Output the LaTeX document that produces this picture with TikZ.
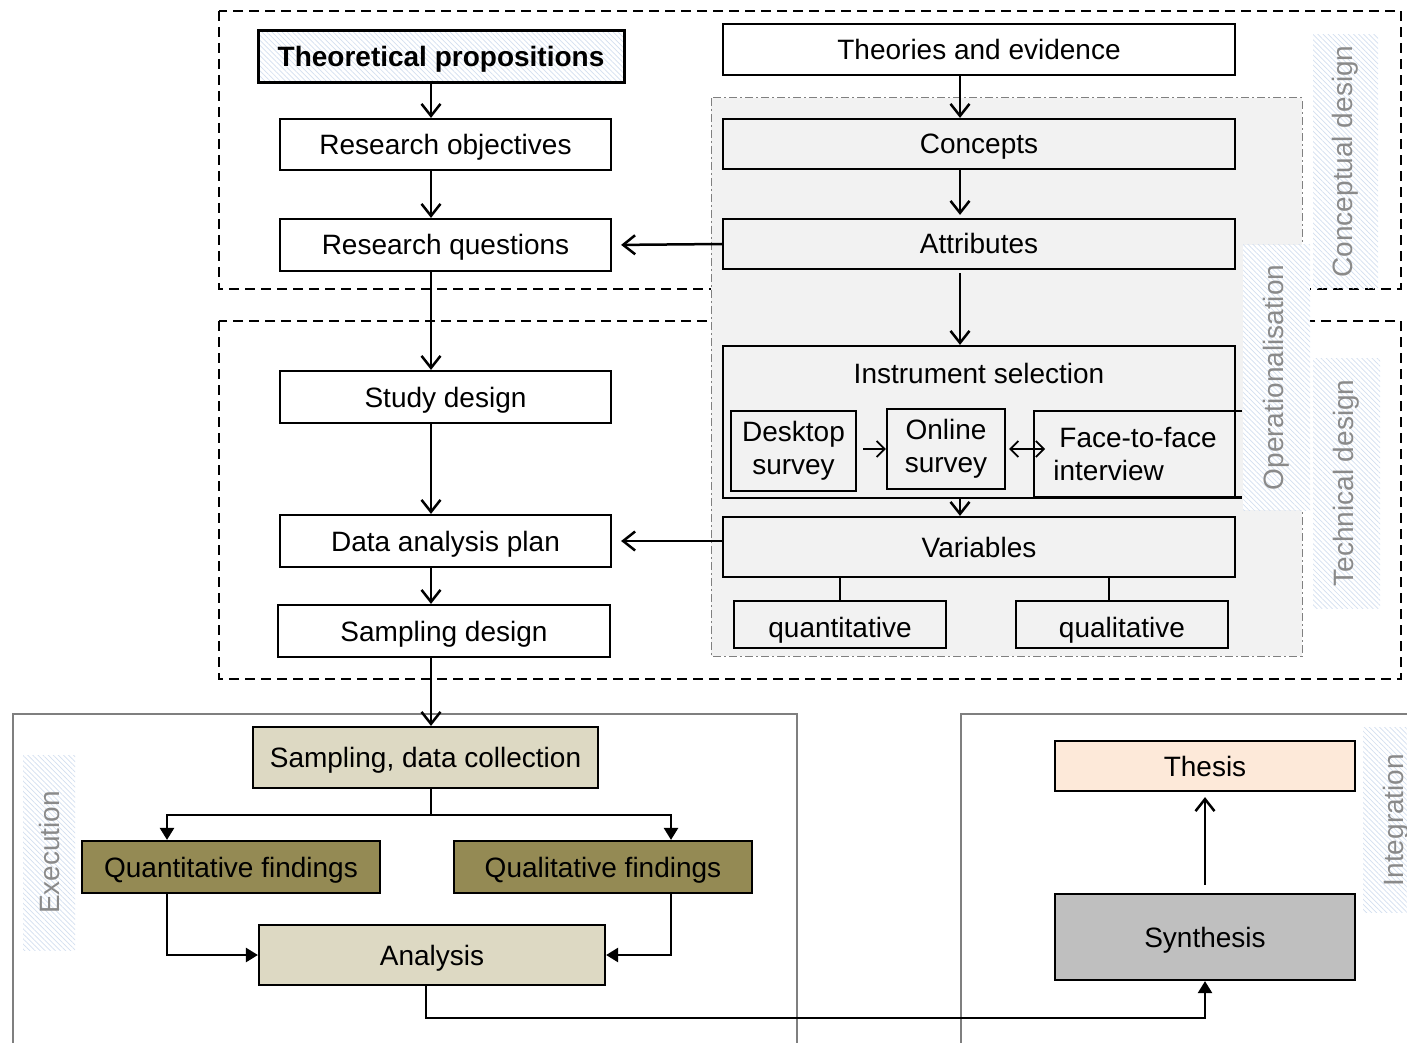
\documentclass[tikz,border=0pt]{standalone}
\usepackage{fontspec}
\setmainfont{Liberation Sans}
\usetikzlibrary{arrows.meta,patterns.meta}
\definecolor{tanfill}{HTML}{DDD9C3}
\definecolor{olivefill}{HTML}{948A54}
\definecolor{peachfill}{HTML}{FDE9D9}
\definecolor{synthfill}{HTML}{BFBFBF}
\definecolor{opfill}{HTML}{F2F2F2}
\definecolor{hatchblue}{HTML}{D3DFF0}
\definecolor{labelgrey}{HTML}{8A8A8A}
\definecolor{framegrey}{HTML}{7F7F7F}
\newcommand\twolines[2]{\raisebox{-2pt}{\begin{tabular}{@{}c@{}}#1\\#2\end{tabular}}}
\begin{document}
\begin{tikzpicture}[x=0.5pt,y=-0.5pt,
  font=\fontsize{14}{16.5}\selectfont,
  box/.style={draw, line width=1.1pt, inner sep=0pt, align=center},
  oneline/.style={text height=11.5pt, text depth=1.5pt},
  hatch/.style={preaction={fill=white}, pattern={Lines[angle=-45,distance=1.8pt,line width=0.35pt]}, pattern color=hatchblue},
  sidelabel/.style={hatch, rotate=90, inner sep=0pt, text=labelgrey},
  phase/.style={dash pattern=on 5pt off 3pt, line width=1pt},
  frame/.style={draw=framegrey, line width=0.6pt},
  arr/.style={line width=1.25pt, -{Straight Barb[length=6pt,width=9.5pt]}},
  smallarr/.style={line width=0.9pt, -{Straight Barb[length=4pt,width=8pt]}},
  farr/.style={line width=1.25pt, -{Triangle[length=6pt,width=7pt]}}
]
\useasboundingbox (0,0) rectangle (1407,1043);

% column guides for connectors
\coordinate (colL) at (431,0);
\coordinate (colR) at (960,0);
\coordinate (ql) at (167,0);
\coordinate (qr) at (671,0);
\coordinate (split) at (431,815);
\coordinate (ac) at (426,0);
\coordinate (low) at (0,1018);

% phase frames
\draw[phase] (219,11) rectangle (1401,289);
\draw[phase] (219,321) rectangle (1401,679);
\draw[frame] (13,1060) -- (13,714) -- (797,714) -- (797,1060);
\draw[frame] (961,1060) -- (961,714) -- (1420,714);

% operationalisation area
\draw[fill=opfill, draw=gray, line width=0.5pt, dash pattern=on 4pt off 1.5pt on 1pt off 1.5pt]
  (711,98) rectangle (1302,656);

% side labels
\node[sidelabel, minimum width=126.5pt, minimum height=32.5pt] (concl) at (1345.5,161.5) {Conceptual design};
\node[sidelabel, minimum width=125pt, minimum height=33.5pt] (techl) at (1346.5,483) {Technical design};
\node[sidelabel, minimum width=132.5pt, minimum height=33.5pt] (operl) at (1276.5,377.5) {Operationalisation};
\node[sidelabel, minimum width=97.5pt, minimum height=26pt] (execl) at (49,852.5) {Execution};
\node[sidelabel, minimum width=92.5pt, minimum height=33pt] (integl) at (1396,820) {Integration};

% left column
\node[box, oneline, hatch, line width=1.5pt, minimum width=183pt, minimum height=26pt, font=\fontsize{14}{16.5}\selectfont\bfseries] (theo) at (441,57) {Theoretical propositions};
\node[box, oneline, minimum width=165.5pt, minimum height=25.5pt] (obj) at (445.5,144.5) {Research objectives};
\node[box, oneline, minimum width=165.5pt, minimum height=26pt] (rq) at (445.5,245) {Research questions};
\node[box, oneline, minimum width=165.5pt, minimum height=26pt] (study) at (445.5,397) {Study design};
\node[box, oneline, minimum width=165.5pt, minimum height=26pt] (dap) at (445.5,541) {Data analysis plan};
\node[box, oneline, minimum width=166pt, minimum height=26pt] (samp) at (444,631) {Sampling design};

% right column
\node[box, oneline, fill=white, minimum width=256pt, minimum height=25.5pt] (theories) at (979,49.5) {Theories and evidence};
\node[box, oneline, minimum width=256pt, minimum height=25pt] (concepts) at (979,144) {Concepts};
\node[box, oneline, minimum width=256pt, minimum height=25pt] (attr) at (979,244) {Attributes};
\node[box, minimum width=256pt, minimum height=76pt] (instr) at (979,422) {};
\node[inner sep=0pt, oneline] (instrtitle) at (979,373) {Instrument selection};
\node[box, minimum width=62.5pt, minimum height=40pt] (desk) at (793.5,451) {\twolines{Desktop}{survey}};
\node[box, minimum width=59pt, minimum height=40pt] (online) at (946,449) {\twolines{Online}{survey}};
\node[inner sep=0pt, minimum width=104pt, minimum height=43pt, align=left] (face) at (1138,454) {Face-to-face\\\hspace*{-3pt}interview};
\draw[line width=1.1pt] (face.north east) -- (face.north west) -- (face.south west) -- (face.south east);
\node[box, oneline, minimum width=256pt, minimum height=30pt] (var) at (979,547) {Variables};
\node[box, text height=14pt, text depth=1pt, minimum width=106pt, minimum height=23.5pt] (quant) at (840,624.5) {quantitative};
\node[box, text height=14pt, text depth=1pt, minimum width=106pt, minimum height=23.5pt] (qual) at (1122,624.5) {qualitative};

% execution and integration
\node[box, oneline, fill=tanfill, minimum width=172.5pt, minimum height=30.5pt] (sdc) at (425.5,757.5) {Sampling, data collection};
\node[box, oneline, fill=olivefill, minimum width=149pt, minimum height=26pt] (qf) at (231,867) {Quantitative findings};
\node[box, oneline, fill=olivefill, minimum width=149pt, minimum height=26pt] (qlf) at (603,867) {Qualitative findings};
\node[box, oneline, fill=tanfill, minimum width=173pt, minimum height=30pt] (ana) at (432,955) {Analysis};
\node[box, oneline, fill=peachfill, minimum width=150pt, minimum height=25pt] (thesis) at (1205,766) {Thesis};
\node[box, oneline, fill=synthfill, minimum width=150pt, minimum height=43pt] (synth) at (1205,937) {Synthesis};

% design connectors
\draw[arr] (theo.south -| colL) -- (obj.north -| colL);
\draw[arr] (obj.south -| colL) -- (rq.north -| colL);
\draw[arr] (rq.south -| colL) -- (study.north -| colL);
\draw[arr] (study.south -| colL) -- (dap.north -| colL);
\draw[arr] (dap.south -| colL) -- (samp.north -| colL);
\draw[arr] (samp.south -| colL) -- (sdc.north -| colL);

\draw[arr] (theories.south -| colR) -- (concepts.north -| colR);
\draw[arr] (concepts.south -| colR) -- ([yshift=1.5pt]attr.north -| colR);
\draw[arr] ([yshift=-1.5pt]attr.south -| colR) -- (instr.north -| colR);
\draw[arr] (instr.south -| colR) -- (var.north -| colR);
\draw[arr, shorten >=4.5pt] (attr.west) -- (rq.east);
\draw[arr, shorten >=4.5pt] (var.west |- dap.east) -- (dap.east);

\draw[smallarr, shorten <=3pt] (desk.east |- online.east) -- (online.west);
\draw[smallarr, {Straight Barb[length=4pt,width=8pt]}-{Straight Barb[length=4pt,width=8pt]}, shorten <=1.5pt] (online.east) -- ++(39,0) coordinate (facein);

\draw[line width=1.1pt] (var.south -| quant) -- (quant.north);
\draw[line width=1.1pt] (var.south -| 1109,0) -- (qual.north -| 1109,0);

% execution connectors
\draw[line width=1.25pt] (sdc.south -| colL) -- (split);
\draw[farr] (split) -| (qf.north -| ql);
\draw[farr] (split) -| (qlf.north -| qr);
\draw[farr] (qf.south -| ql) |- (ana.west);
\draw[farr] (qlf.south -| qr) |- (ana.east);
\draw[farr] (ana.south -| ac) |- (low -| synth.south) -- (synth.south);
\draw[arr, shorten >=2.5pt] ([yshift=4pt]synth.north) -- (thesis.south);

\end{tikzpicture}
\end{document}
